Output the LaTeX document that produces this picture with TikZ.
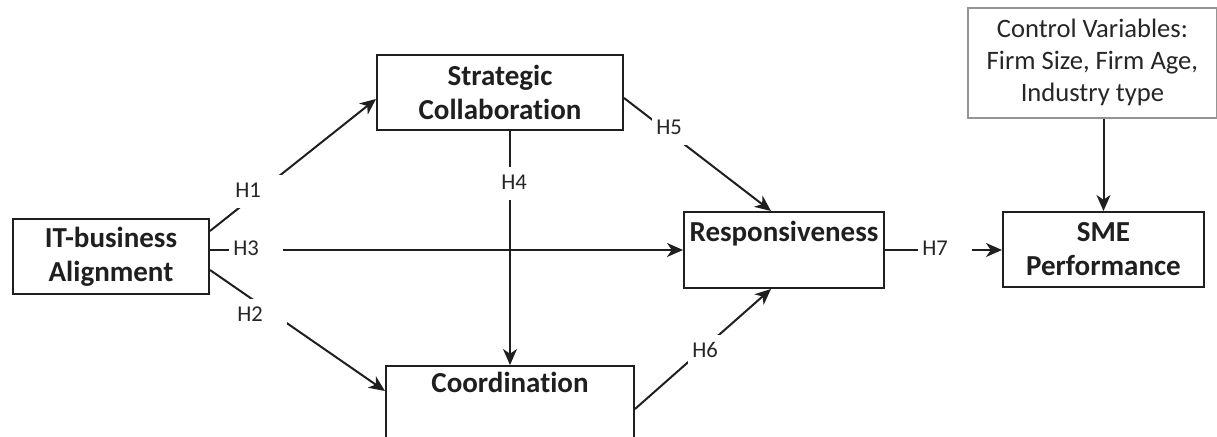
\documentclass[tikz,border=0pt]{standalone}
\usepackage{fontspec}
\setmainfont{Carlito}[Ligatures=NoCommon]
\usetikzlibrary{arrows.meta,calc}
\begin{document}
\begin{tikzpicture}[x=0.5pt,y=-0.5pt,
  box/.style={draw=black!88, line width=1pt, rectangle, inner sep=0pt, fill=white, anchor=north west},
  btxt/.style={font=\fontsize{14.5}{17}\selectfont\bfseries, text=black!88, align=center},
  ptxt/.style={btxt, inner sep=0pt},
  lab/.style={fill=white, font=\fontsize{11.3}{13}\selectfont, text=black!85, text width=23pt, align=left, inner xsep=2pt, inner ysep=2.25pt, text height=9pt, text depth=3pt, anchor=west},
  arr/.style={draw=black!88, line width=1pt, -{Stealth[length=8pt,width=7pt,inset=2.4pt]}},
]
\useasboundingbox (0,0) rectangle (1217,437);

% boxes
\node[box, btxt, minimum width=98pt, minimum height=37.5pt] (it) at (12,218) {IT-business\\Alignment};
\node[box, btxt, minimum width=123pt, minimum height=37.5pt] (sc) at (376,54) {Strategic\\Collaboration};
\node[box, minimum width=124pt, minimum height=38pt] (co) at (385,365) {};
\node[ptxt, anchor=base] (cot) at ($(co.north)+(0,28)$) {Coordination};
\node[box, minimum width=100pt, minimum height=38pt] (re) at (683,211) {};
\node[ptxt, anchor=base] (ret) at ($(re.north)+(0,31)$) {Responsiveness};
\node[box, btxt, minimum width=100.5pt, minimum height=37.5pt] (sme) at (1002,211) {SME\\Performance};
\node[box, draw=black!42, line width=0.9pt, font=\fontsize{13.3}{16}\selectfont, text=black!85, align=center, minimum width=124.5pt, minimum height=55pt] (ctrl) at (967,7) {Control Variables:\\Firm Size, Firm Age,\\Industry type};

% connectors
\draw[arr] ($(it.east)+(0,-25.5)$) -- ($(sc.west)+(0,6.5)$);
\draw[arr] ($(it.east)+(0,13.5)$) -- ($(co.west)+(0,-13)$);
\draw[arr] (it.east |- re.west) -- (re.west);
\draw[arr] (co.north |- sc.south) -- (co.north);
\draw[arr] ($(sc.east)+(0,5.5)$) -- ($(re.north)+(-13,0)$);
\draw[arr] ($(co.east)+(0,5)$) -- ($(re.south)+(-13,0)$);
\draw[arr] (re.east) -- (sme.west |- re.east);
\draw[arr] (ctrl.south -| sme.north) -- (sme.north);

% labels
\node[lab] (h1) at (231,192) {H1};
\node[lab] (h2) at (233,316) {H2};
\node[lab] (h3) at (229,250) {H3};
\node[lab] (h4) at (497,184) {H4};
\node[lab] (h5) at (652,129) {H5};
\node[lab] (h6) at (688,352) {H6};
\node[lab] (h7) at (918,250) {H7};
\end{tikzpicture}
\end{document}
